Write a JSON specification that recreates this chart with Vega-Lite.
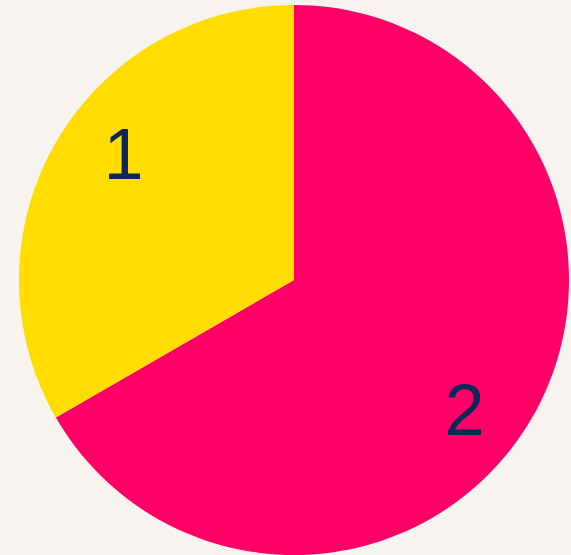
{
  "$schema": "https://vega.github.io/schema/vega-lite/v6.json",
  "width": 571,
  "height": 555,
  "autosize": {"type": "fit", "contains": "padding"},
  "padding": {"left": 17, "top": 5, "right": 0, "bottom": 0},
  "background": "#f7f3ee",
  "config": {"view": {"stroke": null}},
  "data": {"values": [
    {"label": "2", "value": 2},
    {"label": "1", "value": 1}
  ]},
  "encoding": {
    "theta": {"field": "value", "type": "quantitative", "stack": true},
    "order": {"field": "value", "type": "quantitative", "sort": "descending"}
  },
  "layer": [
    {
      "mark": {"type": "arc", "outerRadius": 275, "stroke": null},
      "encoding": {
        "color": {"field": "label", "type": "nominal", "legend": null,
          "scale": {"domain": ["1", "2"], "range": ["#ffdd00", "#ff0066"]}}
      }
    },
    {
      "mark": {"type": "text", "radius": 213, "dy": 5, "fontSize": 72, "font": "Liberation Sans", "color": "#0d2759", "baseline": "middle", "align": "center"},
      "encoding": {
        "theta": {"field": "value", "type": "quantitative", "stack": true, "scale": {"range": [0.12, 6.403]}},
        "text": {"field": "label", "type": "nominal"}
      }
    }
  ],
  "resolve": {"scale": {"theta": "independent"}}
}
